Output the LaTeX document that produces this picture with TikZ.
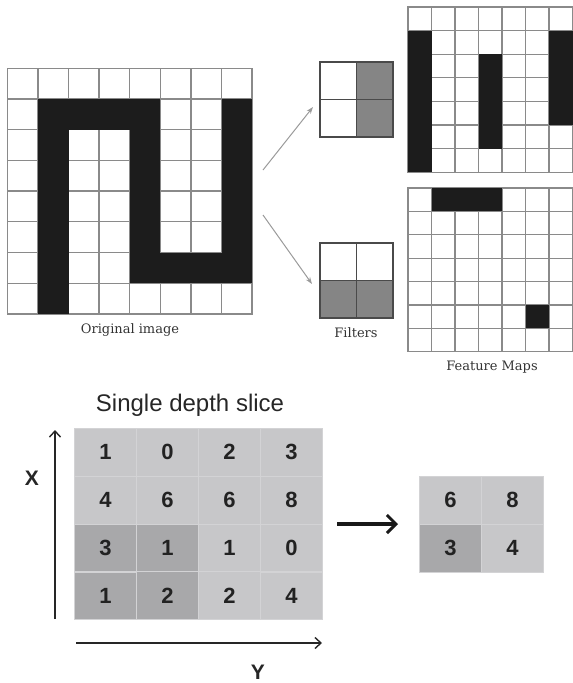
\documentclass[tikz,border=0pt]{standalone}
\usepackage{fontspec}
\setmainfont{DejaVu Serif}
\newfontfamily\sansf{Liberation Sans}
\usetikzlibrary{arrows.meta,matrix}
\definecolor{gridgray}{HTML}{8A8A8A}
\definecolor{blk}{HTML}{1C1C1C}
\definecolor{filtgray}{HTML}{858585}
\definecolor{filtline}{HTML}{4A4A4A}
\definecolor{lightcell}{HTML}{C7C7C9}
\definecolor{darkcell}{HTML}{A8A8AA}
\definecolor{cellline}{HTML}{D3D3D5}
\definecolor{arrgray}{HTML}{9A9A9A}
\definecolor{txt}{HTML}{333333}
\definecolor{num}{HTML}{222222}
\newcommand{\mygrid}[3]{% #1 cols, #2 rows, #3 style
  \foreach \i in {0,...,#1} {\draw[#3] (\i,0) -- (\i,#2);}
  \foreach \j in {0,...,#2} {\draw[#3] (0,\j) -- (#1,\j);}
}
\begin{document}
\begin{tikzpicture}[x=1pt,y=-1pt,
  gridline/.style={draw=gridgray,line width=1.3pt,line cap=rect},
  filterline/.style={draw=filtline,line width=1.1pt,line cap=rect},
  caption/.style={font=\fontsize{13}{15}\selectfont,text=txt},
  cellbox/.style={draw=cellline,line width=0.8pt,minimum width=62pt,minimum height=47.75pt,inner sep=0pt,outer sep=0pt,
    font=\sansf\bfseries\fontsize{22}{24}\selectfont,text=num,fill=lightcell},
  darkbox/.style={fill=darkcell},
  axis/.style={line width=1.4pt,draw=black!85,-{Straight Barb[length=6pt,width=11pt,line width=1.4pt]}},
  thinarrow/.style={line width=1pt,draw=arrgray,-{Stealth[length=7pt,width=5pt]}}]
\useasboundingbox (0,0) rectangle (573,683);

% ---------- Original image ----------
\begin{scope}[shift={(7.3pt,-68.3pt)},x=30.6pt,y=-30.7pt]
  \mygrid{8}{8}{gridline}
  \fill[blk] (1,1) rectangle (5,2);
  \fill[blk] (1,1) rectangle (2,8);
  \fill[blk] (4,1) rectangle (5,7);
  \fill[blk] (4,6) rectangle (8,7);
  \fill[blk] (7,1) rectangle (8,7);
\end{scope}
\node[caption] (origlabel) at (130,330) {Original image};

% ---------- Filters ----------
\begin{scope}[shift={(320pt,-62pt)},x=36.5pt,y=-37.5pt]
  \fill[filtgray] (1,0) rectangle (2,2);
  \mygrid{2}{2}{filterline}
\end{scope}
\begin{scope}[shift={(320pt,-243pt)},x=36.5pt,y=-37.5pt]
  \fill[filtgray] (0,1) rectangle (2,2);
  \mygrid{2}{2}{filterline}
\end{scope}
\node[caption] (filtlabel) at (356,333) {Filters};

% ---------- Feature maps ----------
\begin{scope}[shift={(408pt,-7pt)},x=23.5pt,y=-23.6pt]
  \mygrid{7}{7}{gridline}
  \fill[blk] (0,1) rectangle (1,7);
  \fill[blk] (3,2) rectangle (4,6);
  \fill[blk] (6,1) rectangle (7,5);
\end{scope}
\begin{scope}[shift={(408pt,-188pt)},x=23.5pt,y=-23.4pt]
  \mygrid{7}{7}{gridline}
  \fill[blk] (1,0) rectangle (4,1);
  \fill[blk] (5,5) rectangle (6,6);
\end{scope}
\node[caption] (fmlabel) at (492,367) {Feature Maps};

% ---------- arrows to filters ----------
\coordinate (a1s) at (263,170);
\coordinate (a1e) at (313,107);
\coordinate (a2s) at (263,215);
\coordinate (a2e) at (312,284);
\draw[thinarrow] (a1s) -- (a1e);
\draw[thinarrow] (a2s) -- (a2e);

% ---------- Single depth slice ----------
\node[font=\sansf\fontsize{24}{28}\selectfont,text=black!85] (title) at (190,405) {Single depth slice};

\matrix (slice) [matrix of nodes, anchor=north west, inner sep=0pt, outer sep=0pt,
  column sep=-0.8pt, row sep=-0.8pt, nodes={cellbox}] at (74,428) {
  1 & 0 & 2 & 3 \\
  4 & 6 & 6 & 8 \\
  |[darkbox]| 3 & |[darkbox]| 1 & 1 & 0 \\
  |[darkbox]| 1 & |[darkbox]| 2 & 2 & 4 \\
};

\matrix (pool) [matrix of nodes, anchor=north west, inner sep=0pt, outer sep=0pt,
  column sep=-0.8pt, row sep=-0.8pt, nodes={cellbox,minimum height=48pt}] at (419,476) {
  6 & 8 \\
  |[darkbox]| 3 & 4 \\
};

% axes
\coordinate (xs) at (55,619);
\coordinate (xe) at (55,430);
\coordinate (ys) at (76,643);
\coordinate (ye) at (322,643);
\draw[axis] (xs) -- (xe);
\draw[axis] (ys) -- (ye);
\node[font=\sansf\bfseries\fontsize{21}{24}\selectfont,text=black!85] (xlab) at (32,478) {X};
\node[font=\sansf\bfseries\fontsize{21}{24}\selectfont,text=black!85] (ylab) at (258,672) {Y};

% pooling arrow
\coordinate (ps) at (337,524);
\coordinate (pe) at (398,524);
\draw[line width=3.5pt,draw=black!90,-{Straight Barb[length=9pt,width=18pt,line width=3pt]}] (ps) -- (pe);
\end{tikzpicture}
\end{document}
